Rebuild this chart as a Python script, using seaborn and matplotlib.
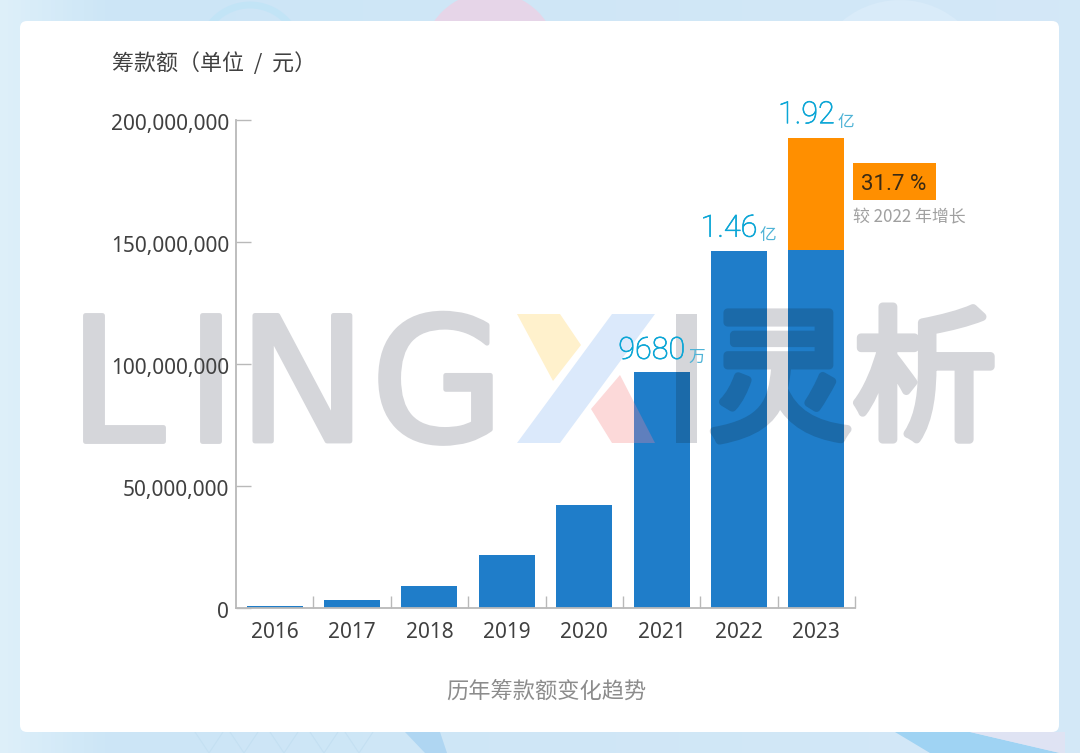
# fundraising_trend.py

import numpy as np
import pandas as pd
import matplotlib
matplotlib.use("Agg")
import matplotlib.pyplot as plt
import matplotlib.patheffects as pe
import seaborn as sns
from matplotlib.patches import Circle, FancyBboxPatch, Polygon, Rectangle
from matplotlib.path import Path
from matplotlib.transforms import ScaledTranslation

years = ["2016", "2017", "2018", "2019", "2020", "2021", "2022", "2023"]
base_amount = [1000000, 3200000, 9000000, 21700000, 42200000, 96800000, 146300000, 146800000]
total_amount = [1000000, 3200000, 9000000, 21700000, 42200000, 96800000, 146300000, 192800000]
y_ticks = [0, 50000000, 100000000, 150000000, 200000000]

label_years = [5, 6, 7]
label_numbers = ["9680", "1.46", "1.92"]
label_units = ["万", "亿", "亿"]

BLUE = "#1f7dc9"
ORANGE = "#ff8f00"
CYAN = "#0ba6d6"
TEXT = "#404040"
GREY = "#8c8c8c"
SPINE = "#b9b9b9"
WM_GREY = "#d5d6da"
WM_DARK = "#1b6aa9"
CJK = ["Noto Sans CJK SC", "DejaVu Sans"]


def pixel_axes(fig, zorder):
    a = fig.add_axes([0, 0, 1, 1], zorder=zorder)
    a.set_xlim(0, 1080)
    a.set_ylim(753, 0)
    a.axis("off")
    return a


def add_background(fig):
    # Pale blue backdrop with the white card, coordinates in pixels
    bg = pixel_axes(fig, -2)
    left = np.array([0.87, 0.94, 0.98])
    mid = np.array([0.80, 0.90, 0.965])
    right = np.array([0.83, 0.91, 0.97])
    t = np.linspace(0, 1, 256)[:, None]
    grad = np.where(t < 0.1, left + (mid - left) * t / 0.1, mid + (right - mid) * (t - 0.1) / 0.9)
    bg.imshow(grad[None, :, :], extent=(0, 1080, 753, 0), aspect="auto", zorder=0)

    bg.add_patch(Circle((490, 60), 68, color="#e6d5e8", lw=0, zorder=1))
    bg.add_patch(Circle((250, 55), 50, fill=False, ec="#c2e4f6", lw=5, zorder=1))
    bg.add_patch(Circle((900, 90), 90, color="#d9ebf9", lw=0, zorder=1))
    bg.add_patch(Polygon([(405, 732), (440, 732), (447, 753), (425, 753)], color="#afd6f2", lw=0, zorder=1))
    bg.add_patch(Polygon([(895, 732), (970, 732), (1060, 753), (930, 753)], color="#9fd3f3", lw=0, zorder=1))
    bg.add_patch(Polygon([(970, 732), (1065, 732), (1065, 753), (1060, 753)], color="#dfe3f3", lw=0, zorder=1))
    for x in [195, 230, 270, 310, 345]:
        bg.plot([x, x + 14, x + 28], [732, 753, 732], color="#c4e0f2", lw=0.8, zorder=1)

    bg.add_patch(FancyBboxPatch((20, 21), 1039, 711, boxstyle="round,pad=0,rounding_size=7",
                                fc="white", ec="none", lw=0, zorder=2))


def logo_text(target, trans, s, x, y, size, family, color, stroke=3.5):
    t = target.text(x, y, s, transform=trans, fontsize=size, family=family, color=color,
                    va="baseline", ha="left", zorder=1.5)
    t.set_path_effects([pe.Stroke(linewidth=stroke, foreground=color), pe.Normal()])
    return t


def add_watermark(fig, ax):
    # Grey logo under the chart, then a darker copy clipped to the blue bars
    wm = pixel_axes(fig, -1)
    letters = ["L", "I", "N", "G"]
    lefts = [68, 185, 238, 371]

    blue_bars = ax.patches[8:]
    clip = Path.make_compound_path(*[b.get_path().transformed(b.get_patch_transform()) for b in blue_bars])

    wm.add_patch(Polygon([(517, 314), (560, 314), (581, 345), (553, 381)], color="#fff1cc", lw=0))
    wm.add_patch(Polygon([(517, 443), (560, 443), (655, 314), (612, 314)], color="#dbe9fb", lw=0))
    pink = [(591, 409), (620, 375), (655, 443), (612, 443)]
    wm.add_patch(Polygon(pink, color="#fcd9d9", lw=0))
    wm.add_patch(Rectangle((676, 314), 21, 129, color=WM_GREY, lw=0))

    over = [Polygon(pink, color="#5f7fbd", lw=0, transform=wm.transData, zorder=1.5),
            Rectangle((676, 314), 21, 129, color=WM_DARK, lw=0, transform=wm.transData, zorder=1.5)]
    for p in over:
        ax.add_artist(p)
        p.set_clip_path(clip, ax.transData)

    for s, x in zip(letters, lefts):
        logo_text(wm, wm.transData, s, x, 441, 124, "DejaVu Sans", WM_GREY)
    logo_text(wm, wm.transData, "灵析", 708, 428, 104, "Noto Sans CJK SC", WM_GREY, stroke=6)

    dark = logo_text(ax, wm.transData, "灵析", 708, 428, 104, "Noto Sans CJK SC", WM_DARK, stroke=6)
    dark.set_clip_on(True)
    dark.set_clip_path(clip, ax.transData)


def draw_chart(fig):
    df = pd.DataFrame({"year": years, "base": base_amount, "total": total_amount})

    ax = fig.add_axes([236 / 1080, 1 - 608 / 753, 619 / 1080, 488 / 753], zorder=1)
    ax.patch.set_alpha(0)

    # Stacked look: full total in orange, the previous-year part in blue on top
    sns.barplot(data=df, x="year", y="total", color=ORANGE, saturation=1, width=0.725, linewidth=0, ax=ax)
    sns.barplot(data=df, x="year", y="base", color=BLUE, saturation=1, width=0.725, linewidth=0, ax=ax)

    ax.set_xlim(-0.5, 7.5)
    ax.set_ylim(0, 200000000)
    ax.set_xlabel("")
    ax.set_ylabel("")
    sns.despine(ax=ax)
    for side in ["left", "bottom"]:
        ax.spines[side].set_color(SPINE)
        ax.spines[side].set_linewidth(1.3)

    ax.set_yticks(y_ticks)
    ax.set_yticklabels([f"{v:,}" for v in y_ticks])
    ax.tick_params(axis="y", left=True, direction="in", length=11, width=1, color=SPINE,
                   labelsize=15, labelcolor=TEXT, pad=5)
    shift = ScaledTranslation(0, -2 / 100, fig.dpi_scale_trans)
    for lab in ax.get_yticklabels():
        lab.set_transform(lab.get_transform() + shift)

    # Ticks between the bars, labels stay centred under them
    ax.set_xticks(np.arange(8) + 0.5)
    ax.set_xticklabels([])
    ax.tick_params(axis="x", bottom=True, direction="in", length=9, width=1, color=SPINE)
    ax.set_xticks(np.arange(8), minor=True)
    ax.set_xticklabels(years, minor=True)
    ax.tick_params(axis="x", which="minor", bottom=False, length=0, labelsize=15, labelcolor=TEXT, pad=10)

    num_dx = [17, 13.3, 13.3]
    unit_dx = [19.5, 15, 15]
    dy = [5, 6, 6]
    thicker = [pe.Stroke(linewidth=0.5, foreground=CYAN), pe.Normal()]
    for i, idx in enumerate(label_years):
        top = total_amount[idx]
        num = ax.annotate(label_numbers[i], (idx, top), xytext=(num_dx[i], dy[i]), textcoords="offset points",
                          ha="right", va="bottom", fontsize=22, color=CYAN, family="Roboto", weight="light")
        num.set_path_effects(thicker)
        ax.annotate(label_units[i], (idx, top), xytext=(unit_dx[i], dy[i] - 1), textcoords="offset points",
                    ha="left", va="bottom", fontsize=12, color="#4fb3d6", family=CJK)

    ax.annotate("31.7 %", (7, total_amount[7]), xytext=(32, -41.5), textcoords="offset points",
                ha="left", va="bottom", fontsize=16, color="#3a2a14", family="Roboto")
    return ax


def main():
    sns.set_theme(style="white")
    plt.rcParams["font.family"] = ["Noto Sans", "Noto Sans CJK SC", "DejaVu Sans"]

    fig = plt.figure(figsize=(10.8, 7.53), dpi=100)
    add_background(fig)
    ax = draw_chart(fig)
    add_watermark(fig, ax)

    # Text and badge outside the plot area
    fig.add_artist(Rectangle((853 / 1080, 1 - 200 / 753), 83 / 1080, 37 / 753, transform=fig.transFigure,
                             facecolor=ORANGE, lw=0, zorder=0.5))
    fig.text(112 / 1080, 1 - 64 / 753, "筹款额（单位  /  元）", fontsize=15.8, color=TEXT, va="center", family=CJK)
    fig.text(546 / 1080, 1 - 691 / 753, "历年筹款额变化趋势", fontsize=16, color=GREY, va="center", ha="center",
             family=CJK)
    fig.text(853 / 1080, 1 - 217 / 753, "较 2022 年增长", fontsize=12.2, color="#a0a0a0", va="center", family=CJK)

    fig.savefig("out.png", dpi=100)


if __name__ == "__main__":
    main()
